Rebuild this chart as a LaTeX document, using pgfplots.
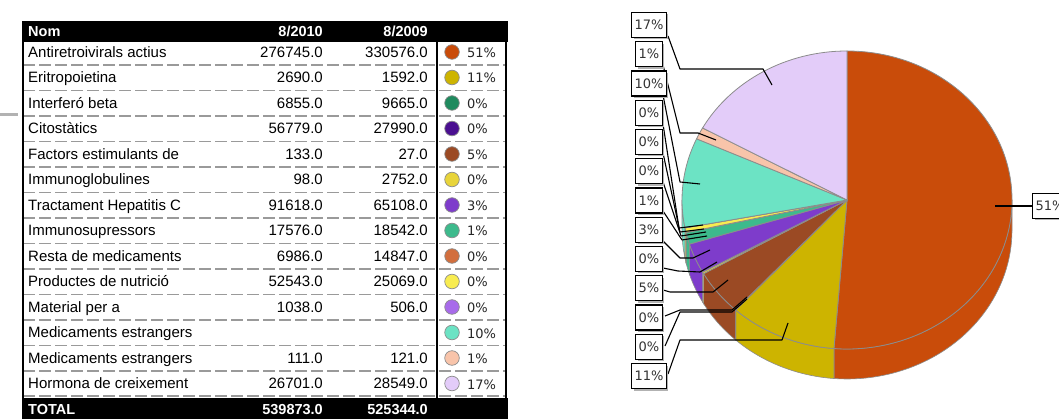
\documentclass[border=0pt]{standalone}
\usepackage{fontspec}
\setmainfont{Liberation Sans}
\newfontfamily\pctfont{DejaVu Sans}
\usepackage{pgfplots}
\pgfplotsset{compat=1.18}
\usetikzlibrary{shadows}

\definecolor{c1}{HTML}{C94C0A}
\definecolor{c2}{HTML}{CDB400}
\definecolor{c3}{HTML}{1F8A5E}
\definecolor{c4}{HTML}{4A0F90}
\definecolor{c5}{HTML}{9B4A24}
\definecolor{c6}{HTML}{E8D43A}
\definecolor{c7}{HTML}{7E3CCB}
\definecolor{c8}{HTML}{3DBA8C}
\definecolor{c9}{HTML}{D26F3E}
\definecolor{c10}{HTML}{F8EC50}
\definecolor{c11}{HTML}{A86BEA}
\definecolor{c12}{HTML}{6CE3C4}
\definecolor{c13}{HTML}{F8C4AA}
\definecolor{c14}{HTML}{E3CCF9}
\definecolor{piegray}{HTML}{8C8C8C}
\definecolor{dashgray}{HTML}{9A9A9A}

% pie slices (8/2010 values), clockwise from 12 o'clock
\def\pielist{276745/c1,56779/c2,133/c3,98/c4,26701/c5,1038/c6,17576/c7,6855/c8,111/c9,2690/c10,0/c11,52543/c12,6986/c13,91618/c14}
\def\pietotal{539873}

\begin{document}
\begin{tikzpicture}
\useasboundingbox (0,0) rectangle (1059pt,-419pt);

\begin{axis}[at={(847pt,-200pt)}, anchor=origin, x=1pt, y=1pt, hide axis,
  xmin=-200, xmax=200, ymin=-200, ymax=200, clip=false]
\pgfplotsextra{
  % side walls (lower half)
  \xdef\cum{90}
  \foreach \v/\c in \pielist {
    \edef\s{\cum}
    \edef\e{\fpeval{round(\cum - \v/\pietotal*360,4)}}
    \xdef\cum{\e}
    \edef\aA{\fpeval{round(min(\s,0),4)}}
    \edef\aB{\fpeval{round(max(\e,-180),4)}}
    \ifdim\aA pt>\aB pt
      \edef\xA{\fpeval{round(165*cosd(\aA),4)}}
      \edef\yA{\fpeval{round(149*sind(\aA),4)}}
      \filldraw[fill=\c, draw=piegray, line width=0.6pt]
        (axis cs:\xA,\yA) arc[start angle=\aA, end angle=\aB, x radius=165pt, y radius=149pt]
        -- ++(0pt,-30pt) arc[start angle=\aB, end angle=\aA, x radius=165pt, y radius=149pt] -- cycle;
    \fi
  }
  % top faces
  \xdef\cum{90}
  \foreach \v/\c in \pielist {
    \edef\s{\cum}
    \edef\e{\fpeval{round(\cum - \v/\pietotal*360,4)}}
    \xdef\cum{\e}
    \edef\xS{\fpeval{round(165*cosd(\s),4)}}
    \edef\yS{\fpeval{round(149*sind(\s),4)}}
    \filldraw[fill=\c, draw=piegray, line width=0.8pt, line join=round]
      (axis cs:0,0) -- (axis cs:\xS,\yS) arc[start angle=\s, end angle=\e, x radius=165pt, y radius=149pt] -- cycle;
  }
}
\end{axis}

\begin{scope}[x=1pt,y=-1pt]
  % small gray line at left
  \draw[line width=3pt, color=black!30] (0,115) -- (18,115);
  % header and total bars
  \fill[black] (22,21) rectangle (508,42);
  \fill[black] (22,398) rectangle (508,419);
  % header text
  \begin{scope}[every node/.style={text=white, font=\bfseries\fontsize{14.5}{16}\selectfont, inner sep=0pt}]
    \node[anchor=base west] at (28,37) {Nom};
    \node[anchor=base east] at (323,37) {8/2010};
    \node[anchor=base east] at (428,37) {8/2009};
    \node[anchor=base west] at (28,414.5) {TOTAL};
    \node[anchor=base east] at (323,414.5) {539873.0};
    \node[anchor=base east] at (428,414.5) {525344.0};
  \end{scope}
  % dashed separators
  \foreach \k in {0,...,12} {
    \draw[dashgray, line width=1.2pt, dash pattern=on 12pt off 4pt] (23,{65+25.5*\k}) -- (506,{65+25.5*\k});
  }
  \draw[dashgray, line width=1.2pt, dash pattern=on 12pt off 4pt] (23,396) -- (506,396);
  % vertical rules
  \draw[black, line width=1.5pt] (22.75,42) -- (22.75,398);
  \draw[black, line width=1.1pt] (437,42) -- (437,398);
  \draw[black, line width=1.3pt] (506,42) -- (506,398);
  % rows
  \foreach \n/\a/\b/\p/\c [count=\i from 0] in {
    Antiretroivirals actius/276745.0/330576.0/51/c1,
    Eritropoietina/2690.0/1592.0/11/c2,
    Interferó beta/6855.0/9665.0/0/c3,
    Citostàtics/56779.0/27990.0/0/c4,
    Factors estimulants de/133.0/27.0/5/c5,
    Immunoglobulines/98.0/2752.0/0/c6,
    Tractament Hepatitis C/91618.0/65108.0/3/c7,
    Immunosupressors/17576.0/18542.0/1/c8,
    Resta de medicaments/6986.0/14847.0/0/c9,
    Productes de nutrició/52543.0/25069.0/0/c10,
    Material per a/1038.0/506.0/0/c11,
    Medicaments estrangers/{}/{}/10/c12,
    Medicaments estrangers/111.0/121.0/1/c13,
    Hormona de creixement/26701.0/28549.0/17/c14} {
    \pgfmathsetmacro\y{52+25.5*\i}
    \node[anchor=base west, inner sep=0pt, font=\fontsize{15}{17}\selectfont] at (28,\y+5.3) {\n};
    \node[anchor=base east, inner sep=0pt, font=\fontsize{15}{17}\selectfont] at (323,\y+5.3) {\a};
    \node[anchor=base east, inner sep=0pt, font=\fontsize{15}{17}\selectfont] at (428,\y+5.3) {\b};
    \filldraw[fill=\c, draw=black!45, line width=0.7pt] (452,\y) circle[radius=7.3pt];
    \node[anchor=base west, inner sep=0pt, text=black!85, font=\pctfont\fontsize{13}{15}\selectfont] at (467,\y+5.5) {\p\%};
  }

  % pie labels
  \tikzset{lbl/.style={draw=black, line width=1.1pt, fill=white, text=black!80,
      font=\pctfont\fontsize{13}{15}\selectfont, inner xsep=3pt, inner ysep=0pt,
      minimum height=25pt,
      drop shadow={shadow xshift=2pt, shadow yshift=-2pt, fill=black!30, opacity=1}}}
  \tikzset{ldr/.style={black, line width=1.1pt, line join=round}}
  % leader lines
  \draw[ldr] (668,36) -- (680,69) -- (763,69) -- (772,85);
  \draw[ldr] (663,65) -- (680,133) -- (698,133) -- (716,140);
  \draw[ldr] (663,95) -- (680,182) -- (700,184);
  \draw[ldr] (663,124) -- (679,228) -- (703,225);
  \draw[ldr] (663,153) -- (680,232) -- (704,229);
  \draw[ldr] (663,182) -- (681,236) -- (706,232);
  \draw[ldr] (663,211) -- (682,240) -- (707,236);
  \draw[ldr] (663,241) -- (680,258) -- (693,258) -- (710,250);
  \draw[ldr] (663,268) -- (678,271) -- (700,272) -- (717,262);
  \draw[ldr] (663,290) -- (670,292) -- (713,292) -- (728,280);
  \draw[ldr] (665,316) -- (680,310) -- (732,310) -- (747,297);
  \draw[ldr] (665,346) -- (680,312) -- (732,312) -- (747,299);
  \draw[ldr] (668,374) -- (680,340) -- (782,340) -- (788,323);
  \draw[ldr] (1032,206) -- (995,206);
  % label boxes
  \foreach \t [count=\j from 0] in {17,1,10,0,0,0,1,3,0,5,0,0,11} {
    \node[lbl] at (649,{25+29.25*\j}) {\t\%};
  }
  \node[lbl, anchor=west] at (1032,206) {51\%};
\end{scope}
\end{tikzpicture}
\end{document}
